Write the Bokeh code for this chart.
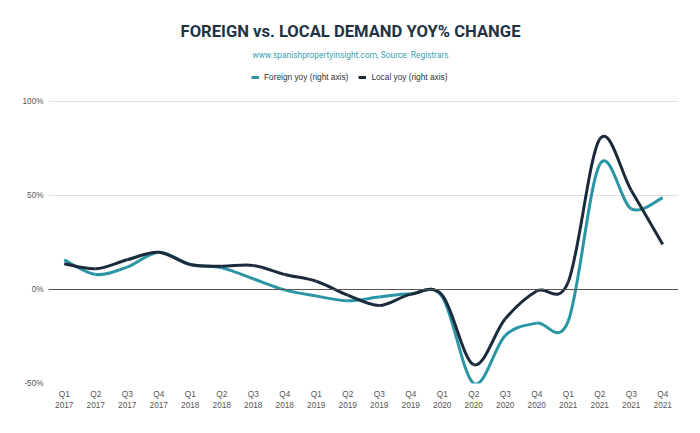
from bokeh.plotting import figure
from bokeh.models import (Range1d, FixedTicker, Label, Legend, LegendItem, Span)
from bokeh.embed import file_html
from bokeh.resources import INLINE

# ---- data ----
quarters = ["Q1", "Q2", "Q3", "Q4"] * 5
years = ["2017"] * 4 + ["2018"] * 4 + ["2019"] * 4 + ["2020"] * 4 + ["2021"] * 4
foreign_yoy = [15.8, 8.0, 11.9, 19.8, 13.3, 11.5, 5.7, -0.2, -3.5, -6.0,
               -4.0, -2.3, -3.9, -50.0, -24.5, -17.9, -16.8, 66.5, 42.9, 48.8]
local_yoy = [13.7, 11.0, 15.8, 19.8, 13.3, 12.4, 12.8, 8.0, 4.4, -3.0,
             -8.5, -2.6, -3.0, -40.0, -15.6, -0.8, 4.0, 80.0, 52.7, 24.0]
y_ticks = [-50, 0, 50, 100]
y_tick_labels = ["-50%", "0%", "50%", "100%"]
series_names = ["Foreign yoy (right axis)", "Local yoy (right axis)"]
title_text = "FOREIGN vs. LOCAL DEMAND YOY% CHANGE"
subtitle_text = "www.spanishpropertyinsight.com, Source: Registrars"
colors = ["#2a95a5", "#1b2b3c"]

x_idx = list(range(len(quarters)))
x_labels = {i: f"{q}\n{y}" for i, (q, y) in enumerate(zip(quarters, years))}


def catmull_rom(xs, ys):
    """Bezier segments of a uniform Catmull-Rom spline through the points."""
    n = len(xs)
    seg = dict(x0=[], y0=[], x1=[], y1=[], cx0=[], cy0=[], cx1=[], cy1=[])
    for i in range(n - 1):
        xp, yp = (xs[i - 1], ys[i - 1]) if i > 0 else (xs[i], ys[i])
        xn, yn = (xs[i + 2], ys[i + 2]) if i + 2 < n else (xs[i + 1], ys[i + 1])
        seg["x0"].append(xs[i]); seg["y0"].append(ys[i])
        seg["x1"].append(xs[i + 1]); seg["y1"].append(ys[i + 1])
        seg["cx0"].append(xs[i] + (xs[i + 1] - xp) / 6)
        seg["cy0"].append(ys[i] + (ys[i + 1] - yp) / 6)
        seg["cx1"].append(xs[i + 1] - (xn - xs[i]) / 6)
        seg["cy1"].append(ys[i + 1] - (yn - ys[i]) / 6)
    return seg


# frame spans the canvas from the top down to the x-axis; the top strip holds titles
FRAME_H = 383
PX_PER_UNIT = 1.88
p = figure(width=700, height=433, output_backend="svg", toolbar_location=None,
           title=None, x_range=Range1d(-0.5, len(quarters) - 0.5),
           y_range=Range1d(-50, FRAME_H / PX_PER_UNIT - 50),
           min_border_left=48, min_border_right=22, min_border_bottom=50,
           min_border_top=0)
p.outline_line_color = None
p.background_fill_color = "white"
p.border_fill_color = "white"

renderers = []
for vals, col in zip([foreign_yoy, local_yoy], colors):
    seg = catmull_rom(x_idx, vals)
    p.bezier(x0=seg["x0"], y0=seg["y0"], x1=seg["x1"], y1=seg["y1"],
             cx0=seg["cx0"], cy0=seg["cy0"], cx1=seg["cx1"], cy1=seg["cy1"],
             line_color=col, line_width=3)
    renderers.append(p.line(x=[float("nan")], y=[float("nan")], line_color=col, line_width=3))

zero = Span(location=0, dimension="width", line_color="#555555", line_width=1)
p.renderers.insert(0, zero)

# axes
p.xaxis.ticker = FixedTicker(ticks=x_idx)
p.xaxis.major_label_overrides = x_labels
p.yaxis.ticker = FixedTicker(ticks=y_ticks)
p.yaxis.major_label_overrides = dict(zip(y_ticks, y_tick_labels))
for ax in (p.xaxis, p.yaxis):
    ax.axis_line_color = None
    ax.major_tick_line_color = None
    ax.minor_tick_line_color = None
    ax.major_tick_out = 0
    ax.major_tick_in = 0
    ax.minor_tick_out = 0
    ax.minor_tick_in = 0
    ax.major_label_text_color = "#555555"
    ax.major_label_text_font = "Liberation Sans"
p.xaxis.major_label_text_font_size = "8.3px"
p.xaxis.major_label_text_line_height = 1.15
p.yaxis.major_label_text_font_size = "8.2px"
p.xaxis.major_label_standoff = 5
p.yaxis.major_label_standoff = 5
p.xgrid.grid_line_color = None
p.ygrid.grid_line_color = "#e0e0e0"
p.ygrid.ticker = FixedTicker(ticks=[t for t in y_ticks if t != 0])

p.add_layout(Label(x=302, y=FRAME_H - 31, x_units="screen", y_units="screen",
                   text=title_text, text_align="center", text_baseline="middle",
                   text_font="Roboto", text_font_size="16.6px", text_font_style="bold",
                   text_color="#1f3344"))
p.add_layout(Label(x=302, y=FRAME_H - 54, x_units="screen", y_units="screen",
                   text=subtitle_text, text_align="center", text_baseline="middle",
                   text_font="Roboto", text_font_size="8.4px",
                   text_color="#3a9fb0"))

legend = Legend(items=[LegendItem(label=n, renderers=[r]) for n, r in zip(series_names, renderers)],
                orientation="horizontal", location=(203, FRAME_H - 82),
                label_text_font="Liberation Sans", label_text_font_size="8.3px",
                label_text_color="#333333", glyph_width=8, glyph_height=10,
                label_height=10, label_standoff=5, spacing=10, padding=0, margin=0,
                border_line_color=None, background_fill_alpha=0)
p.add_layout(legend)

open("out.html", "w").write(file_html(p, INLINE))
